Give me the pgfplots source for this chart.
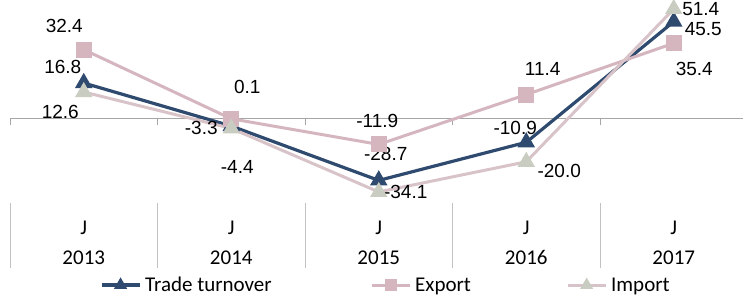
\documentclass[border=0pt]{standalone}
\usepackage{pgfplots}
\pgfplotsset{compat=1.18}
\usepackage{fontspec}
\setmainfont{Liberation Sans}
\newfontfamily\catfont{Carlito}
\definecolor{tt}{HTML}{2F4A6F}
\definecolor{ex}{HTML}{D5B6BF}
\definecolor{imline}{HTML}{D8C4C8}
\definecolor{immark}{HTML}{C9CCC1}
\definecolor{zl}{HTML}{A6A6A6}
\begin{document}
\begin{tikzpicture}[lbl/.style={font=\fontsize{19}{22}\selectfont, inner sep=0pt, anchor=center}]
\begin{axis}[
  scale only axis, width=737.5pt, height=205pt,
  xmin=-0.5, xmax=4.5, ymin=-40.2, ymax=55.6,
  axis x line=bottom, axis y line=none,
  x axis line style={draw=none,-},
  xtick={0,1,2,3,4},
  xticklabels={{J\\2013},{J\\2014},{J\\2015},{J\\2016},{J\\2017}},
  major tick length=0pt,
  xticklabel style={align=center, font=\catfont\fontsize{21}{30}\selectfont, yshift=-12pt},
  clip=false,
  legend columns=3,
  legend cell align=left,
  legend style={draw=none, fill=none, inner sep=0pt, outer sep=0pt,
    at={(axis description cs:0.122,0)}, anchor=north west, yshift=-71pt,
    font=\catfont\fontsize{21}{25}\selectfont,
    nodes={inner xsep=0pt, inner ysep=1pt},
    /tikz/every odd column/.append style={column sep=4pt}},
  legend image code/.code={\draw[mark repeat=2, mark phase=2, mark size=4.5pt] plot coordinates {(0pt,0pt) (19pt,0pt) (38pt,0pt)};},
]
\draw[zl, line width=1pt] (axis cs:-0.5,0) -- (axis cs:4.5,0);
\pgfplotsinvokeforeach{-0.5,0.5,1.5,2.5,3.5}{
  \draw[zl, line width=1pt] (axis cs:#1,0) -- ([yshift=-6pt]axis cs:#1,0);
  \draw[zl!70, line width=1pt] ([yshift=2pt]axis cs:#1,-40.2) -- ([yshift=-63pt]axis cs:#1,-40.2);
}
\addplot[tt, line width=3.2pt, mark=triangle*, mark size=7pt, mark options={solid}]
  coordinates {(0,16.8)(1,-3.3)(2,-28.7)(3,-10.9)(4,45.5)};
\addlegendentry{\makebox[225pt][l]{Trade turnover}}
\addplot[ex, line width=3pt, mark=square*, mark size=6.5pt, mark options={solid}]
  coordinates {(0,32.4)(1,0.1)(2,-11.9)(3,11.4)(4,35.4)};
\addlegendentry{\makebox[151pt][l]{Export}}
\addplot[imline, line width=3pt, mark=triangle*, mark size=7pt, mark options={solid, fill=immark, draw=immark}]
  coordinates {(0,12.6)(1,-4.4)(2,-34.1)(3,-20.0)(4,51.4)};
\addlegendentry{Import}

\node[lbl, xshift=-19.5pt, yshift=24pt] at (axis cs:0,32.4) {32.4};
\node[lbl, xshift=-21pt, yshift=16pt] at (axis cs:0,16.8) {16.8};
\node[lbl, xshift=-23.5pt, yshift=-20pt] at (axis cs:0,12.6) {12.6};
\node[lbl, xshift=16pt, yshift=31.5pt] at (axis cs:1,0.1) {0.1};
\node[lbl, xshift=-30pt, yshift=-1.5pt] at (axis cs:1,-3.3) {-3.3};
\node[lbl, xshift=6pt, yshift=-38.5pt] at (axis cs:1,-4.4) {-4.4};
\node[lbl, xshift=-1.5pt, yshift=23.5pt] at (axis cs:2,-11.9) {-11.9};
\node[lbl, xshift=7pt, yshift=26pt] at (axis cs:2,-28.7) {-28.7};
\node[lbl, xshift=27pt, yshift=-0.5pt] at (axis cs:2,-34.1) {-34.1};
\node[lbl, xshift=16.5pt, yshift=26pt] at (axis cs:3,11.4) {11.4};
\node[lbl, xshift=-11pt, yshift=14pt] at (axis cs:3,-10.9) {-10.9};
\node[lbl, xshift=33pt, yshift=-8.7pt] at (axis cs:3,-20.0) {-20.0};
\node[lbl, xshift=27pt, yshift=0pt] at (axis cs:4,51.4) {51.4};
\node[lbl, xshift=29.5pt, yshift=-7pt] at (axis cs:4,45.5) {45.5};
\node[lbl, xshift=20.5pt, yshift=-25.3pt] at (axis cs:4,35.4) {35.4};

\coordinate (TL) at (rel axis cs:0,1);
\coordinate (BR) at (rel axis cs:1,0);
\end{axis}
\pgfresetboundingbox
\path ([xshift=-10pt]TL) rectangle ([xshift=-4.5pt,yshift=-91pt]BR);
\end{tikzpicture}
\end{document}
